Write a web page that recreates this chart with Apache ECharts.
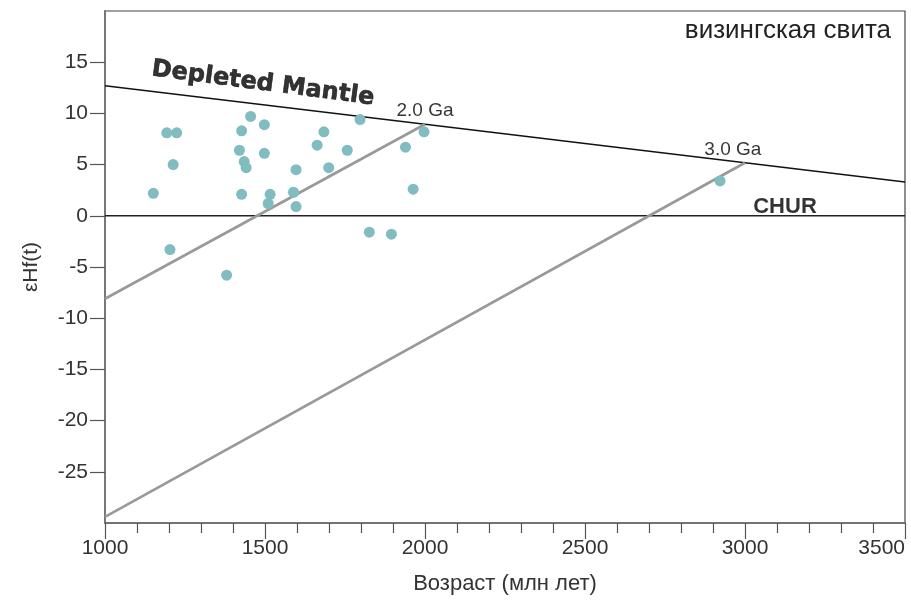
<!DOCTYPE html>
<html>
<head>
<meta charset="utf-8">
<script src="https://cdn.jsdelivr.net/npm/echarts@6/dist/echarts.min.js"></script>
<style>
  html, body { margin: 0; padding: 0; background: #fff; }
  #chart { width: 911px; height: 601px; }
</style>
</head>
<body>
<div id="chart"></div>
<script>
  // zircon ages (Ma) and εHf(t)
  const ageMa = [1193, 1224, 1213, 1151, 1203, 1380, 1455, 1427, 1498, 1420,
                 1498, 1435, 1441, 1427, 1516, 1510, 1597, 1589, 1597, 1797,
                 1684, 1663, 1757, 1699, 1939, 1997, 1963, 1826, 1895, 2922];
  const epsHf = [8.1, 8.1, 5.0, 2.2, -3.3, -5.8, 9.7, 8.3, 8.9, 6.4,
                 6.1, 5.3, 4.7, 2.1, 2.1, 1.2, 4.5, 2.3, 0.9, 9.4,
                 8.2, 6.9, 6.4, 4.7, 6.7, 8.2, 2.6, -1.6, -1.8, 3.4];

  // reference lines
  const dmLine = [[1000, 12.7], [3500, 3.3]];
  const churLine = [[1000, 0], [3500, 0]];
  const ga2Line = [[1000, -8.1], [2000, 8.94]];
  const ga3Line = [[1000, -29.4], [3000, 5.18]];

  const xTicks = [1000, 1500, 2000, 2500, 3000, 3500];
  const yTicks = [-25, -20, -15, -10, -5, 0, 5, 10, 15];

  const font = 'Liberation Sans, Arial, sans-serif';
  const myChart = echarts.init(document.getElementById('chart'));

  function textMark(name, x, y, size, bold, rotate, family, stroke) {
    return {
      name: name,
      type: 'scatter',
      silent: true,
      symbolSize: 0,
      data: [[x, y]],
      label: {
        show: true,
        position: 'inside',
        formatter: name,
        color: '#000',
        textBorderColor: '#000',
        textBorderWidth: stroke || 0,
        fontFamily: family || font,
        fontSize: size,
        fontWeight: bold ? 'bold' : 'normal',
        rotate: rotate || 0
      },
      z: 5
    };
  }

  const option = {
    animation: false,
    grid: {
      left: 105,
      right: 6,
      top: 11,
      bottom: 78,
      outerBoundsMode: 'none',
      containLabel: false,
      show: true,
      borderColor: '#444',
      borderWidth: 1.2
    },
    xAxis: {
      type: 'value',
      min: 1000,
      max: 3500,
      interval: 500,
      name: 'Возраст (млн лет)',
      nameLocation: 'middle',
      nameGap: 50,
      nameTextStyle: { fontFamily: font, fontSize: 22, color: '#333' },
      axisLine: { onZero: false, lineStyle: { color: '#666', width: 1.5 } },
      axisTick: { show: true, length: 16, lineStyle: { color: '#555', width: 1.2 } },
      minorTick: { show: true, splitNumber: 5, length: 10, lineStyle: { color: '#555', width: 1.2 } },
      axisLabel: {
        margin: 15,
        fontFamily: font,
        fontSize: 21,
        color: '#333',
        alignMaxLabel: 'right',
        formatter: v => (xTicks.indexOf(v) >= 0 ? String(v) : '')
      },
      splitLine: { show: false }
    },
    yAxis: {
      type: 'value',
      min: -30,
      max: 20,
      interval: 5,
      name: 'εHf(t)',
      nameLocation: 'middle',
      nameRotate: 90,
      nameGap: 63,
      nameTextStyle: { fontFamily: font, fontSize: 21, color: '#333' },
      axisLine: { onZero: false, lineStyle: { color: '#777', width: 2 } },
      axisTick: { show: true, length: 15, customValues: yTicks, lineStyle: { color: '#555', width: 1.2 } },
      axisLabel: {
        margin: 17,
        fontFamily: font,
        fontSize: 21,
        color: '#333',
        customValues: yTicks,
        formatter: v => (yTicks.indexOf(v) >= 0 ? String(v) : '')
      },
      splitLine: { show: false }
    },
    series: [
      {
        name: 'Depleted Mantle',
        type: 'line',
        data: dmLine,
        symbol: 'none',
        lineStyle: { color: '#111', width: 1.3 },
        silent: true
      },
      {
        name: 'CHUR',
        type: 'line',
        data: churLine,
        symbol: 'none',
        lineStyle: { color: '#222', width: 1.5 },
        silent: true
      },
      {
        name: '2.0 Ga',
        type: 'line',
        data: ga2Line,
        symbol: 'none',
        lineStyle: { color: '#999', width: 2.6 },
        silent: true
      },
      {
        name: '3.0 Ga',
        type: 'line',
        data: ga3Line,
        symbol: 'none',
        lineStyle: { color: '#999', width: 2.6 },
        silent: true
      },
      {
        name: 'zircon',
        type: 'scatter',
        data: ageMa.map((a, i) => [a, epsHf[i]]),
        symbolSize: 11,
        itemStyle: { color: '#80bcc0', opacity: 1 },
        z: 4
      },
      textMark('Depleted Mantle', 1494, 12.9, 24, true, -7.5, 'DejaVu Sans, sans-serif', 0.6),
      textMark('2.0 Ga', 2000, 10.3, 19, false, 0),
      textMark('3.0 Ga', 2962, 6.4, 19, false, 0),
      textMark('CHUR', 3125, 0.9, 22, true, 0)
    ],
    graphic: [
      {
        type: 'text',
        right: 20,
        top: 18,
        style: {
          text: 'визингская свита',
          fontFamily: font,
          fontSize: 26,
          fill: '#222'
        }
      }
    ]
  };

  // 使用配置项和数据显示图表
  myChart.setOption(option);
</script>
</body>
</html>
